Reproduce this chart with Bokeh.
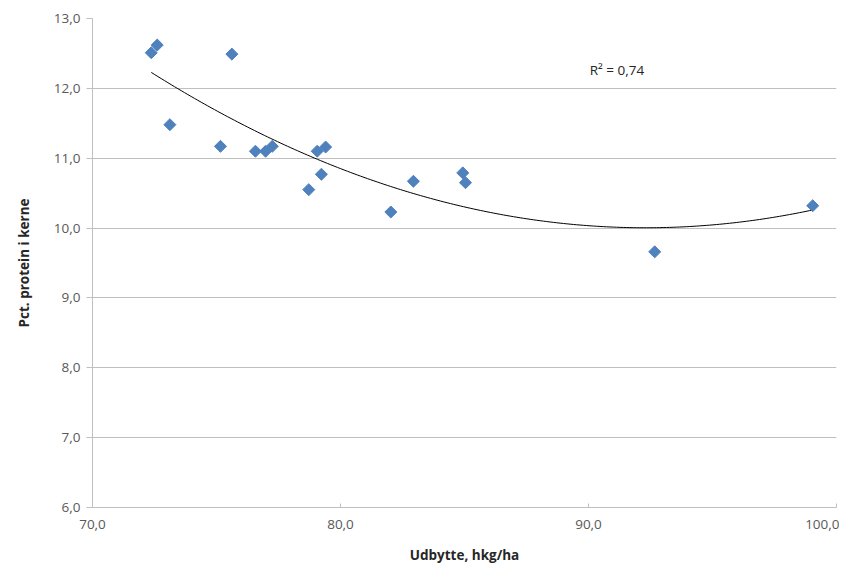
import numpy as np
from bokeh.plotting import figure
from bokeh.models import Label, CustomJSTickFormatter, FixedTicker, Range1d
from bokeh.embed import file_html
from bokeh.resources import INLINE

# Data
udbytte = [72.37, 72.61, 73.12, 75.62, 75.16, 76.57, 76.98, 77.25, 79.06, 79.40,
           79.23, 78.72, 82.94, 82.03, 84.93, 85.04, 92.67, 99.04]
protein = [12.51, 12.62, 11.48, 12.49, 11.17, 11.10, 11.10, 11.17, 11.10, 11.16,
           10.77, 10.55, 10.67, 10.23, 10.79, 10.65, 9.66, 10.32]
x_ticks = [70, 80, 90, 100]
y_ticks = [6, 7, 8, 9, 10, 11, 12, 13]
r2_text = "R\u00b2 = 0,74"

FONT = "Open Sans"
TICK_COLOR = "#595959"

p = figure(width=839, height=569, output_backend="svg", toolbar_location=None,
           x_range=Range1d(70, 100), y_range=Range1d(6, 13),
           min_border_left=92, min_border_top=18, min_border_right=3, min_border_bottom=62)
p.outline_line_color = None
p.background_fill_color = "white"

fmt = CustomJSTickFormatter(code="return tick.toFixed(1).replace('.', ',');")

for ax in (p.xaxis[0], p.yaxis[0]):
    ax.formatter = fmt
    ax.axis_line_color = "#bfbfbf"
    ax.major_tick_line_color = "#bfbfbf"
    ax.minor_tick_line_color = None
    ax.major_label_text_font = FONT
    ax.major_label_text_font_size = "13.5px"
    ax.major_label_text_color = TICK_COLOR
    ax.axis_label_text_font = FONT
    ax.axis_label_text_font_size = "13.5px"
    ax.axis_label_text_font_style = "bold"
    ax.axis_label_text_color = "#262626"

p.xaxis[0].ticker = FixedTicker(ticks=x_ticks)
p.yaxis[0].ticker = FixedTicker(ticks=y_ticks)
p.xaxis[0].major_tick_in = 4
p.xaxis[0].major_tick_out = 0
p.yaxis[0].major_tick_in = 0
p.yaxis[0].major_tick_out = 6
p.xaxis[0].major_label_standoff = 12
p.yaxis[0].major_label_standoff = 6
p.xaxis[0].axis_label = "Udbytte, hkg/ha"
p.yaxis[0].axis_label = "Pct. protein i kerne"
p.xaxis[0].axis_label_standoff = 14
p.yaxis[0].axis_label_standoff = 18

p.xgrid.grid_line_color = None
p.ygrid.ticker = FixedTicker(ticks=y_ticks)
p.ygrid.grid_line_color = "#bfbfbf"
p.ygrid.grid_line_width = 1

# Polynomial (order 2) trendline fitted to the points
coef = np.polyfit(udbytte, protein, 2)
xs = np.linspace(min(udbytte), max(udbytte), 200)
ys = np.polyval(coef, xs)
p.line(xs, ys, line_color="black", line_width=1)

p.scatter(udbytte, protein, marker="square", angle=np.pi / 4, size=8.5,
          fill_color="#4f81bd", line_color="#4f81bd")

p.add_layout(Label(x=90.05, y=12.26, text=r2_text, text_font=FONT,
                   text_font_size="13.5px", text_color="#262626",
                   text_baseline="middle", text_align="left"))

open("out.html", "w").write(file_html(p, INLINE))
